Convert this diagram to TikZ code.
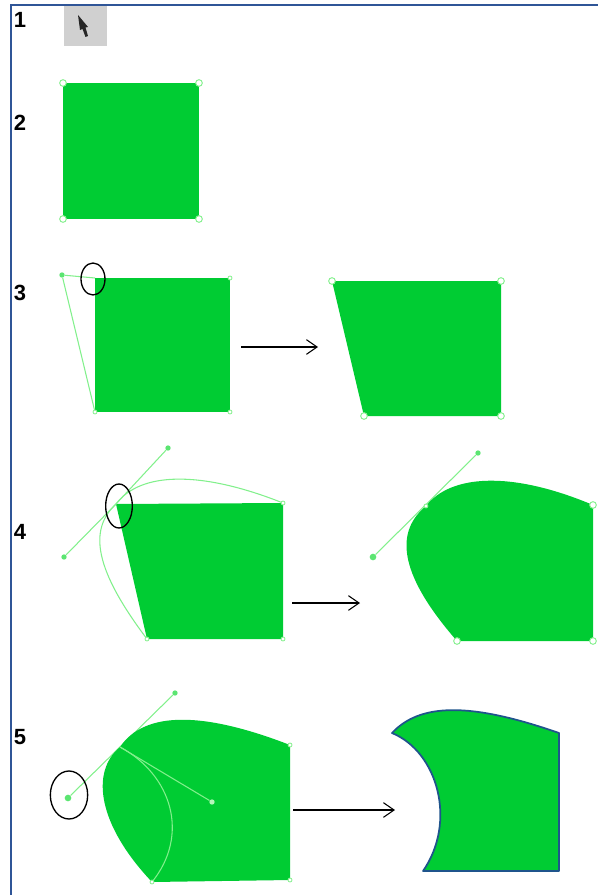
\documentclass[tikz,border=0pt]{standalone}
\usepackage{fontspec}
\setmainfont{Liberation Sans}
\usetikzlibrary{arrows.meta,shapes.geometric}
\definecolor{shapegreen}{RGB}{0,204,51}
\definecolor{handlegreen}{RGB}{130,240,140}
\definecolor{framecolor}{RGB}{47,85,151}
\definecolor{outlineblue}{RGB}{31,84,140}
\tikzset{
  stepnum/.style={anchor=center,inner sep=0.75pt,font=\fontsize{16.5}{18}\selectfont\bfseries},
  handle/.style={circle,draw=handlegreen,fill=white,line width=0.7pt,minimum size=5pt,inner sep=0pt},
  tick/.style={circle,draw=handlegreen,fill=white,line width=0.6pt,minimum size=3pt,inner sep=0pt},
  ctrl/.style={circle,fill=handlegreen!70!shapegreen,minimum size=4pt,inner sep=0pt},
  guide/.style={draw=handlegreen,line width=0.8pt},
  shapefill/.style={fill=shapegreen},
  circled/.style={draw=black,line width=1pt,ellipse,inner sep=0pt},
  movearrow/.style={black,line width=0.8pt,->,>={Straight Barb[length=8pt,width=11pt]}},
}
\begin{document}
\begin{tikzpicture}[x=0.75pt,y=0.75pt,yscale=-1,xscale=1]
\useasboundingbox (0,0) rectangle (598,895);

%Frame
\draw [color=framecolor,line width=0.9pt] (598,5) -- (11,5) -- (11,895) ;

% Text Node
\node [stepnum] (num1) at (20,20) {1};
\node [stepnum] (num2) at (20,123) {2};
\node [stepnum] (num3) at (20,293) {3};
\node [stepnum] (num4) at (20,532) {4};
\node [stepnum] (num5) at (20,737) {5};

%Cursor button
\fill [color={rgb, 255:red, 208; green, 208; blue, 208 }] (64,6) rectangle (107,46) ;
\fill [black!85] (78,15) -- (88,27) -- (85.5,27.5) -- (88,36) -- (85.5,37) -- (82.5,29) -- (80,30) -- cycle ;

%Row 2
\coordinate (a1) at (63,83);
\coordinate (a2) at (199,83);
\coordinate (a3) at (199,219);
\coordinate (a4) at (63,219);
\fill [shapefill] (a1) -- (a2) -- (a3) -- (a4) -- cycle ;
\node [handle] at (a1) {};
\node [handle] at (a2) {};
\node [handle] at (a3) {};
\node [handle] at (a4) {};

%Row 3
\node [ctrl] (b0) at (62,275) {};
\coordinate (b1) at (95,278);
\coordinate (b2) at (230,278);
\coordinate (b3) at (230,412);
\coordinate (b4) at (95,412);
\fill [shapefill] (b1) -- (b2) -- (b3) -- (b4) -- cycle ;
\draw [guide] (b0) -- (b1) ;
\draw [guide] (b0) -- (b4) ;
\node [tick] at (b2) {};
\node [tick] at (b3) {};
\node [tick] at (b4) {};
\node [circled,minimum width=18pt,minimum height=24pt] (mark3) at (93,279) {};
\coordinate (from3) at (241,347);
\coordinate (to3) at (318,347);
\draw [movearrow] (from3) -- (to3) ;

\coordinate (c1) at (332,281);
\coordinate (c2) at (501,281);
\coordinate (c3) at (501,416);
\coordinate (c4) at (364,416);
\fill [shapefill] (c1) -- (c2) -- (c3) -- (c4) -- cycle ;
\node [handle] at (c1) {};
\node [handle] at (c2) {};
\node [handle] at (c3) {};
\node [handle] at (c4) {};

%Row 4
\coordinate (d1) at (116,504);
\coordinate (d2) at (283,503);
\coordinate (d3) at (283,639);
\coordinate (d4) at (147,639);
\node [ctrl] (d5) at (168,448) {};
\node [ctrl] (d6) at (64,557) {};
\fill [shapefill] (d1) -- (d2) -- (d3) -- (d4) -- cycle ;
\draw [guide] (d5) -- (d1) -- (d6) ;
\draw [guide] (d1) .. controls (140,472) and (200,470) .. (d2) ;
\draw [guide] (d1) .. controls (88,530) and (95,570) .. (d4) ;
\node [tick] at (d2) {};
\node [tick] at (d3) {};
\node [tick] at (d4) {};
\node [circled,minimum width=20pt,minimum height=33pt] (mark4) at (119,506) {};
\coordinate (from4) at (292,603);
\coordinate (to4) at (360,603);
\draw [movearrow] (from4) -- (to4) ;

\node [ctrl] (e5) at (478,453) {};
\node [ctrl,minimum size=5pt] (e6) at (373,557) {};
\coordinate (e1) at (426,506);
\coordinate (e2) at (593,505);
\coordinate (e3) at (593,641);
\coordinate (e4) at (457,641);
\draw [guide] (e5) -- (e6) ;
\fill [shapefill] (e1) .. controls (450,475) and (510,470) .. (e2) -- (e3) -- (e4) .. controls (395,570) and (397,530) .. (e1) -- cycle ;
\node [tick] at (e1) {};
\node [handle] at (e2) {};
\node [handle] at (e3) {};
\node [handle] at (e4) {};

%Row 5
\node [ctrl] (f5) at (175,693) {};
\coordinate (f1) at (120,747);
\coordinate (f2) at (290,745);
\coordinate (f3) at (290,880);
\coordinate (f4) at (152,882);
\node [ctrl,minimum size=5pt] (f6) at (68,798) {};
\draw [guide] (f5) -- (f6) ;
\fill [shapefill] (f1) .. controls (145,710) and (205,712) .. (f2) -- (f3) -- (f4) .. controls (98,825) and (90,772) .. (f1) -- cycle ;
\node [ctrl,fill=handlegreen!60!white] (f7) at (212,802) {};
\draw [guide] (f1) -- (f7) ;
\draw [guide] (f1) .. controls (172,775) and (190,835) .. (f4) ;
\node [tick] at (f2) {};
\node [tick] at (f3) {};
\node [tick] at (f4) {};
\node [circled,minimum width=28pt,minimum height=36pt] (mark5) at (69,795) {};
\coordinate (from5) at (293,810);
\coordinate (to5) at (395,810);
\draw [movearrow] (from5) -- (to5) ;

\coordinate (g1) at (392,733);
\coordinate (g2) at (559,733);
\coordinate (g3) at (559,871);
\coordinate (g4) at (423,871);
\draw [fill=shapegreen,draw=outlineblue,line width=1.3pt,line join=round] (g1) .. controls (420,703) and (470,702) .. (g2) -- (g3) -- (g4) .. controls (457,822) and (438,752) .. (g1) -- cycle ;

\end{tikzpicture}
\end{document}
